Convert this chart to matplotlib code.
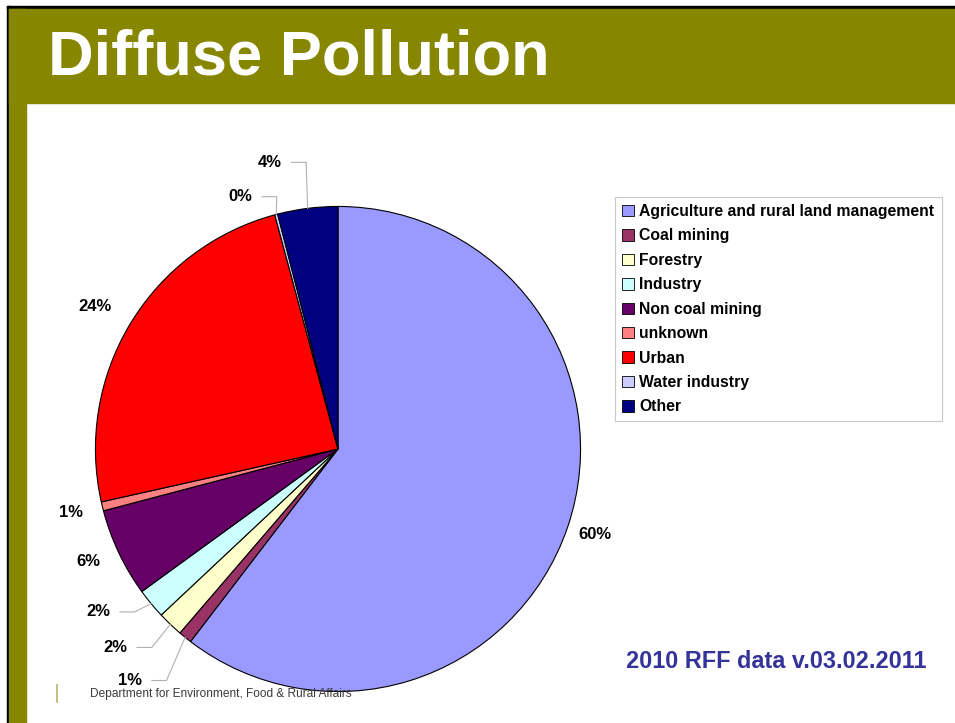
import numpy as np
import matplotlib
matplotlib.use('Agg')
import matplotlib.pyplot as plt
from matplotlib.patches import Rectangle, Patch

plt.rcParams['font.family'] = ['Liberation Sans', 'DejaVu Sans']

# data
categories = ['Agriculture and rural land management', 'Coal mining', 'Forestry',
              'Industry', 'Non coal mining', 'unknown', 'Urban', 'Water industry', 'Other']
shares = [60.4, 0.9, 1.7, 2.0, 5.9, 0.6, 24.3, 0.2, 4.0]
pct_labels = ['60%', '1%', '2%', '2%', '6%', '1%', '24%', '0%', '4%']
colors = ['#9999FF', '#993366', '#FFFFCC', '#CCFFFF', '#660066',
          '#FF8080', '#FF0000', '#CCCCFF', '#000080']

# label anchors (in pie radius units) and whether a leader line is drawn
label_pos = [(1.05, -0.35), (-0.85, -0.945), (-0.91, -0.81), (-0.98, -0.665),
             (-1.02, -0.46), (-1.09, -0.26), (-0.99, 0.58), (-0.40, 1.03), (-0.28, 1.17)]
leader = [False, True, True, True, False, False, False, True, True]

W, H = 955, 723
fig = plt.figure(figsize=(W / 100, H / 100), dpi=100)

# slide background
bg = fig.add_axes([0, 0, 1, 1])
bg.set_xlim(0, W)
bg.set_ylim(H, 0)
bg.axis('off')
olive = '#868600'
bg.add_patch(Rectangle((7, 6), W, 3, color='black'))
bg.add_patch(Rectangle((7, 6), 2.5, H, color='black'))
bg.add_patch(Rectangle((9, 9), W, 94, color=olive))
bg.add_patch(Rectangle((9, 9), 17, H, color=olive))
bg.text(48, 58, 'Diffuse Pollution', color='white', fontsize=45.5, fontweight='bold',
        va='center', ha='left')
bg.text(626, 661, '2010 RFF data v.03.02.2011', color='#333399', fontsize=16.9,
        fontweight='bold', va='center', ha='left')
bg.plot([57, 57], [685, 702], color='#b5b56a', lw=1.2)

# pie
cx, cy, R = 338, 449, 245
ax = fig.add_axes([0, 0, 1, 1])
wedges, _ = ax.pie(shares, colors=colors, startangle=90, counterclock=False,
                   radius=0.99, wedgeprops=dict(edgecolor='black', linewidth=0.8))
ax.set_aspect('auto')
ax.set_xlim(-cx / R, (W - cx) / R)
ax.set_ylim(-(H - cy) / R, cy / R)
ax.axis('off')

for w, lab, (lx, ly), ld in zip(wedges, pct_labels, label_pos, leader):
    ax.text(lx, ly, lab, fontsize=12, fontweight='bold', ha='center', va='center')
    if ld:
        mid = np.deg2rad((w.theta1 + w.theta2) / 2)
        ex, ey = 0.99 * np.cos(mid), 0.99 * np.sin(mid)
        ax.plot([lx + 0.09, lx + 0.15, ex], [ly, ly, ey], color='#b0b0b0', lw=0.8)

# footer logo text drawn above the pie
ax.text(90 / W, 1 - 694 / H, 'Department for Environment, Food & Rural Affairs',
        transform=fig.transFigure, color='#3a3a3a', fontsize=8.6, va='center',
        ha='left', zorder=10)

handles = [Patch(facecolor=c, edgecolor='black', linewidth=0.6) for c in colors]
leg = ax.legend(handles, categories, loc='upper left',
                bbox_to_anchor=(615 / W, 1 - 197 / H), bbox_transform=fig.transFigure,
                frameon=True, fancybox=False, edgecolor='#c8c8c8', framealpha=1,
                prop=dict(weight='bold', size=11.3), handlelength=0.75, handleheight=0.75,
                handletextpad=0.35, labelspacing=0.6, borderpad=0.45, borderaxespad=0)
leg.get_frame().set_linewidth(0.8)

fig.savefig('out.png', dpi=100)
